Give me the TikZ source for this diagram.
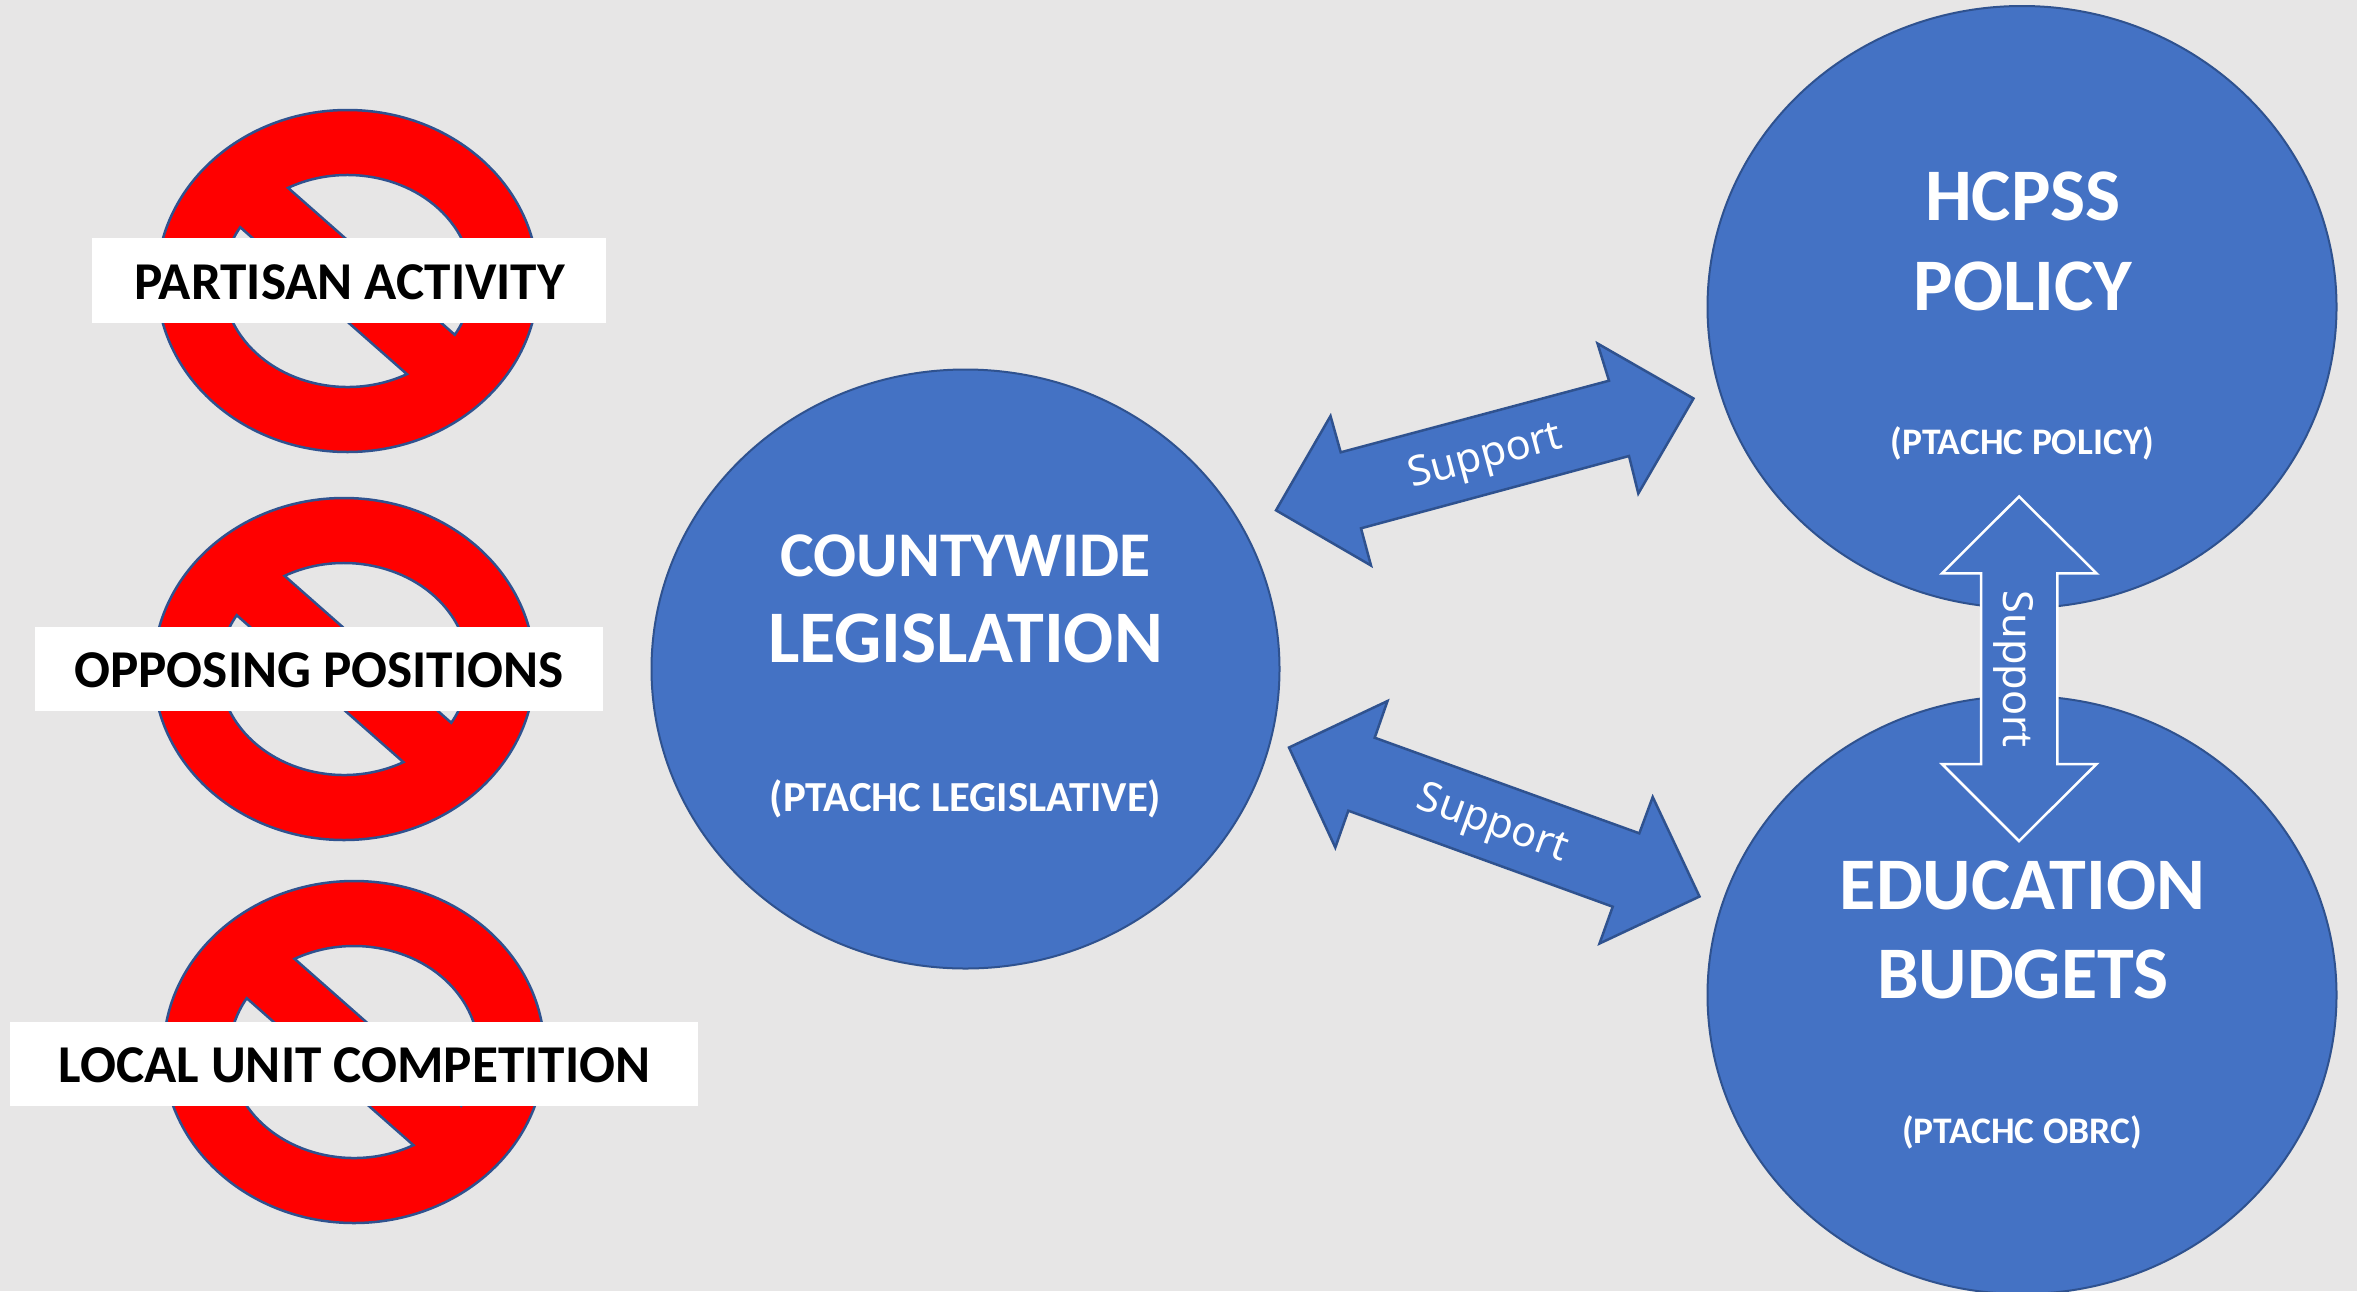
\documentclass[tikz,border=0pt]{standalone}
\usepackage{fontspec}
\setmainfont{Carlito}
\newfontfamily\supfont{Noto Sans}
\usetikzlibrary{shapes.geometric}
\definecolor{bgcol}{HTML}{E7E6E6}
\definecolor{blueF}{HTML}{4472C4}
\definecolor{blueE}{HTML}{2F528F}
\tikzset{
  bigoval/.style={ellipse,draw=blueE,line width=2pt,fill=blueF,inner sep=0pt},
  stopsign/.style={fill=red,draw=blueE,line width=2.5pt,even odd rule},
  tagbox/.style={fill=white,inner sep=0pt},
  tagtext/.style={anchor=base,inner sep=0pt,text=black,font=\bfseries\fontsize{53.2}{53.2}\selectfont},
  head/.style={anchor=base,inner sep=0pt,text=white,font=\bfseries\fontsize{#1}{#1}\selectfont},
  arrowshape/.style={fill=blueF,draw=blueE,line width=2.5pt,line join=miter},
  arrowwhite/.style={fill=blueF,draw=white,line width=2.5pt,line join=miter},
  suplabel/.style={inner sep=0pt,text=white,font=\supfont\fontsize{41.5}{41.5}\selectfont}
}
\newcommand{\stopsymbol}[2]{%
  \begin{scope}[shift={(#1,#2)}]
    \path[stopsign] (0,0) ellipse [x radius=190.5pt,y radius=171pt]
      (-118.5:124.5pt and 106pt) arc[start angle=-118.5,end angle=30.5,x radius=124.5pt,y radius=106pt] -- cycle
      (61.5:124.5pt and 106pt) arc[start angle=61.5,end angle=210.5,x radius=124.5pt,y radius=106pt] -- cycle;
  \end{scope}}
\begin{document}
\begin{tikzpicture}[x=1pt,y=1pt,yscale=-1]
\useasboundingbox (0,0) rectangle (2357,1291);
\fill[bgcol] (0,0) rectangle (2357,1291);

\stopsymbol{347.5}{281}
\stopsymbol{344}{669}
\stopsymbol{354}{1052}

\node[tagbox,minimum width=514pt,minimum height=85pt] (r1) at (349,280.5) {};
\node[tagbox,minimum width=568pt,minimum height=84pt] (r2) at (319,669) {};
\node[tagbox,minimum width=688pt,minimum height=84pt] (r3) at (354,1064) {};
\node[tagtext] (t1) at (349.5,299) {PARTISAN ACTIVITY};
\node[tagtext] (t2) at (319,687.5) {OPPOSING POSITIONS};
\node[tagtext] (t3) at (354.5,1082) {LOCAL UNIT COMPETITION};

\node[bigoval,minimum width=628pt,minimum height=599pt] (county) at (965.5,669) {};
\node[bigoval,minimum width=629pt,minimum height=602pt] (hcpss) at (2022,307) {};
\node[bigoval,minimum width=629pt,minimum height=598pt] (edu) at (2022,995) {};

\node[head=63.7] (c1) at (965.5,576.5) {COUNTYWIDE};
\node[head=74.2] (c2) at (965.5,662.5) {LEGISLATION};
\node[head=42.8] (c3) at (965.5,811.5) {(PTACHC LEGISLATIVE)};
\node[head=74.2] (h1) at (2023,220.5) {HCPSS};
\node[head=74.2] (h2) at (2023,310.5) {POLICY};
\node[head=37.5] (h3) at (2022.5,454.5) {(PTACHC POLICY)};
\node[head=74.2] (e1) at (2022.5,909.5) {EDUCATION};
\node[head=74.2] (e2) at (2023,998.5) {BUDGETS};
\node[head=37.5] (e3) at (2022,1143.5) {(PTACHC OBRC)};

\path[arrowshape] (1276,510.3) -- (1330.5,416) -- (1340.7,452.3) -- (1609,380.7) -- (1597.5,343.5) -- (1693.5,398.5) -- (1638.3,493.5) -- (1629,456) -- (1361,528.3) -- (1371,565.5) -- cycle;
\node[suplabel,rotate=15] (l1) at (1486,458) {Support};

\path[arrowshape] (1289,747.5) -- (1387.5,701) -- (1374.7,737.7) -- (1639.3,833.3) -- (1652.7,797) -- (1699.5,896.5) -- (1599.5,943.5) -- (1612.7,906.7) -- (1348.3,810.7) -- (1335.3,847.5) -- cycle;
\node[suplabel,rotate=-20] (l2) at (1492,825) {Support};

\path[arrowwhite] (2019,496.5) -- (2096.5,573.3) -- (2057.3,573.3) -- (2057.3,764) -- (2096.5,764) -- (2019,841) -- (1942,764) -- (1981,764) -- (1981,573.3) -- (1942,573.3) -- cycle;
\node[suplabel,rotate=-90] (l3) at (2014,669) {Support};
\end{tikzpicture}
\end{document}
